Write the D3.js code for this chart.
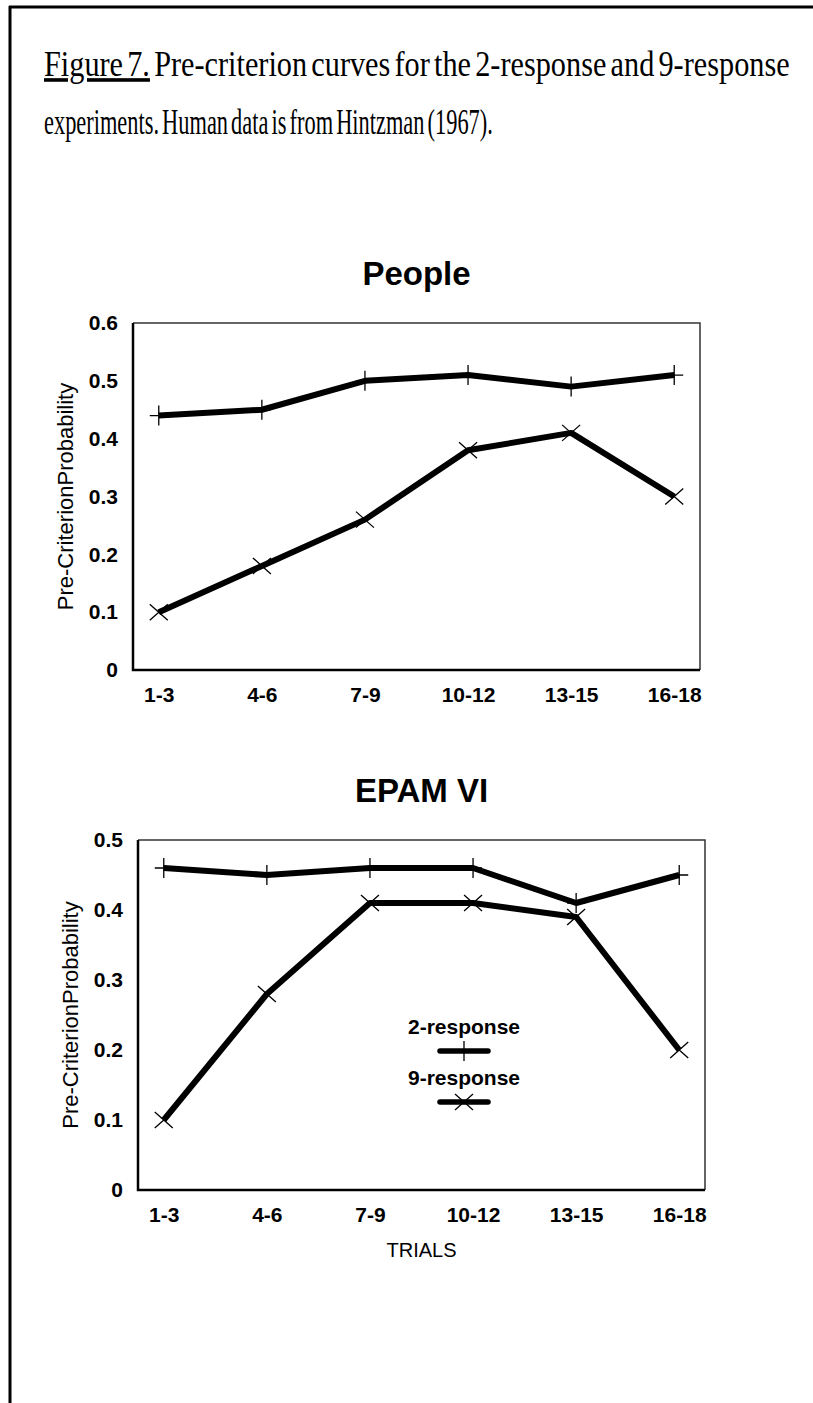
<!DOCTYPE html>
<html>
<head>
<meta charset="utf-8">
<title>Figure 7</title>
<script src="https://d3js.org/d3.v7.min.js"></script>
<style>
  body { margin: 0; background: #fff; }
</style>
</head>
<body>
<div id="chart"></div>
<script>
    // data
    var trials = ["1-3", "4-6", "7-9", "10-12", "13-15", "16-18"];
    var people2 = [0.44, 0.45, 0.50, 0.51, 0.49, 0.51];
    var people9 = [0.10, 0.18, 0.26, 0.38, 0.41, 0.30];
    var epam2 = [0.46, 0.45, 0.46, 0.46, 0.41, 0.45];
    var epam9 = [0.10, 0.28, 0.41, 0.41, 0.39, 0.20];
    var peopleTicks = [0, 0.1, 0.2, 0.3, 0.4, 0.5, 0.6];
    var epamTicks = [0, 0.1, 0.2, 0.3, 0.4, 0.5];
    var legendNames = ["2-response", "9-response"];

    var W = 813, H = 1403;
    var sans = "'Liberation Sans', Arial, sans-serif";
    var serif = "'Liberation Serif', 'Times New Roman', serif";

    var svg = d3.select("#chart").append("svg")
        .attr("width", W)
        .attr("height", H);

    svg.append("rect").attr("width", W).attr("height", H).attr("fill", "#fff");

    // page frame (top + left edge of the scanned box)
    svg.append("line").attr("x1", 9).attr("x2", W).attr("y1", 7).attr("y2", 7)
        .attr("stroke", "#000").attr("stroke-width", 3);
    svg.append("line").attr("x1", 10).attr("x2", 10).attr("y1", 6).attr("y2", H)
        .attr("stroke", "#000").attr("stroke-width", 3);

    // caption: condensed serif, squeezed horizontally to the printed width
    function squeeze(t, x, y, w) {
        var len = t.node().getComputedTextLength();
        t.attr("transform", "translate(" + x + "," + y + ") scale(" + (w / len) + ",1)");
    }
    var cap1 = svg.append("text")
        .style("font-family", serif).style("font-size", "36px").style("word-spacing", "-4px");
    cap1.append("tspan").style("text-decoration", "underline").text("Figure 7.");
    cap1.append("tspan").text(" Pre-criterion curves for the 2-response and 9-response");
    squeeze(cap1, 44, 76, 746);

    var cap2 = svg.append("text")
        .style("font-family", serif).style("font-size", "36px").style("word-spacing", "-4px")
        .text("experiments. Human data is from Hintzman (1967).");
    squeeze(cap2, 44, 134, 449);

    function plus(g) {
        g.append("path").attr("d", "M-9,0H9M0,-10V10")
            .attr("stroke", "#000").attr("stroke-width", 1.3).attr("fill", "none");
    }
    function cross(g) {
        g.append("path").attr("d", "M-9,-8L9,8M-9,8L9,-8")
            .attr("stroke", "#000").attr("stroke-width", 1.3).attr("fill", "none");
    }

    function panel(o) {
        var g = svg.append("g").attr("transform", "translate(" + o.left + "," + o.top + ")");

        var x = d3.scalePoint().domain(trials).range([0, o.width]).padding(0.25);
        var y = d3.scaleLinear().domain([0, o.yMax]).range([o.height, 0]);

        // title
        svg.append("text")
            .attr("x", o.left + o.width / 2).attr("y", o.top - 38)
            .attr("text-anchor", "middle")
            .style("font-family", sans).style("font-weight", "bold").style("font-size", "33px")
            .text(o.title);

        // frame
        g.append("path").attr("d", "M0,0H" + o.width + "V" + o.height)
            .attr("stroke", "#333").attr("stroke-width", 1.5).attr("fill", "none");
        g.append("path").attr("d", "M0,0V" + o.height + "H" + o.width)
            .attr("stroke", "#000").attr("stroke-width", 2.5).attr("fill", "none");

        // y axis
        var ya = g.append("g")
            .call(d3.axisLeft(y).tickValues(o.ticks).tickSize(0).tickPadding(15)
                .tickFormat(function (d) { return d === 0 ? "0" : d3.format(".1f")(d); }));
        ya.select(".domain").remove();
        ya.selectAll("text")
            .style("font-family", sans).style("font-weight", "bold").style("font-size", "21px")
            .attr("fill", "#000");

        // x axis
        var xa = g.append("g")
            .attr("transform", "translate(0," + o.height + ")")
            .call(d3.axisBottom(x).tickSize(0).tickPadding(17));
        xa.select(".domain").remove();
        xa.selectAll("text")
            .style("font-family", sans).style("font-weight", "bold").style("font-size", "21px")
            .attr("fill", "#000");

        // y axis title
        g.append("text")
            .attr("transform", "translate(-60," + (o.height / 2) + ") rotate(-90)")
            .attr("text-anchor", "middle")
            .style("font-family", sans).style("font-size", "22px")
            .text("Pre-CriterionProbability");

        if (o.xTitle) {
            g.append("text")
                .attr("x", o.width / 2).attr("y", o.height + 67)
                .attr("text-anchor", "middle")
                .style("font-family", sans).style("font-size", "20px")
                .text(o.xTitle);
        }

        var line = d3.line()
            .x(function (d, i) { return x(trials[i]); })
            .y(function (d) { return y(d); });

        o.series.forEach(function (s) {
            g.append("path").datum(s.values)
                .attr("d", line)
                .attr("fill", "none").attr("stroke", "#000")
                .attr("stroke-width", 6).attr("stroke-linejoin", "round");
            g.selectAll(null).data(s.values).enter().append("g")
                .attr("transform", function (d, i) { return "translate(" + x(trials[i]) + "," + y(d) + ")"; })
                .each(function () { s.marker(d3.select(this)); });
        });

        return { g: g, x: x, y: y };
    }

    panel({
        left: 133, top: 323, width: 567, height: 347,
        yMax: 0.6, ticks: peopleTicks, title: "People",
        series: [{ values: people2, marker: plus }, { values: people9, marker: cross }]
    });

    panel({
        left: 138, top: 840, width: 567, height: 350,
        yMax: 0.5, ticks: epamTicks, title: "EPAM VI", xTitle: "TRIALS",
        series: [{ values: epam2, marker: plus }, { values: epam9, marker: cross }]
    });

    // legend
    var markers = [plus, cross];
    var lg = svg.append("g").attr("transform", "translate(464,1034)");
    legendNames.forEach(function (name, i) {
        lg.append("text")
            .attr("x", 0).attr("y", i * 51)
            .attr("text-anchor", "middle")
            .style("font-family", sans).style("font-weight", "bold").style("font-size", "21px")
            .text(name);
        lg.append("line")
            .attr("x1", -24).attr("x2", 24)
            .attr("y1", i * 51 + 17).attr("y2", i * 51 + 17)
            .attr("stroke", "#000").attr("stroke-width", 5.5).attr("stroke-linecap", "round");
        var m = lg.append("g").attr("transform", "translate(0," + (i * 51 + 17) + ")");
        markers[i](m);
    });
</script>
</body>
</html>
